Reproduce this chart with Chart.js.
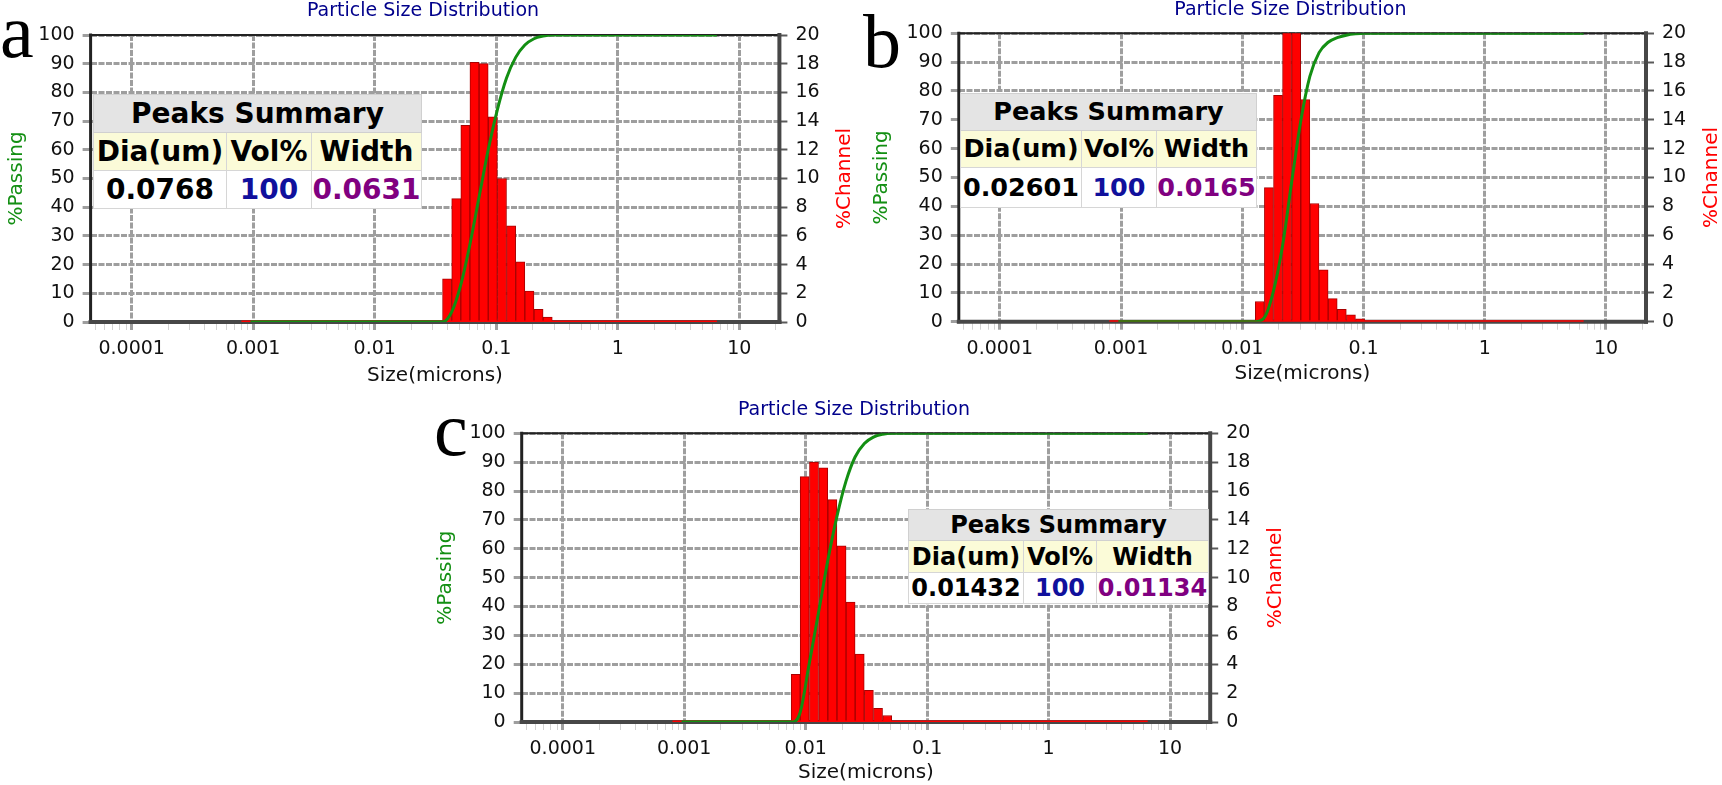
<!DOCTYPE html>
<html><head><meta charset="utf-8">
<script src="https://cdn.jsdelivr.net/npm/chart.js@4.4.1/dist/chart.umd.min.js"></script>
<style>
html,body{margin:0;padding:0;background:#fff;}
body{width:1722px;height:785px;position:relative;overflow:hidden;}
canvas{position:absolute;}
.lbl{position:absolute;font-family:"Liberation Serif","DejaVu Serif",serif;font-size:76px;line-height:76px;color:#000;z-index:6;}
.pk{position:absolute;border-collapse:collapse;table-layout:fixed;font-family:"DejaVu Sans",Verdana,sans-serif;font-weight:bold;z-index:5;background:#fff;border:1px solid #c9c9d9;}
.pk td{padding:0;text-align:center;white-space:nowrap;overflow:hidden;border:1px solid #d6d6d6;line-height:1;color:#000;}
.pk tr.h td{background:#e4e4e4;border-color:#d0d0d0;}
.pk tr.l td{background:#fbfbd8;}
.pk tr.v td{background:#fff;}
</style></head><body>
<canvas id="ca" width="860" height="395" style="left:0px;top:0px;width:860px;height:395px"></canvas>
<canvas id="cb" width="862" height="395" style="left:860px;top:0px;width:862px;height:395px"></canvas>
<canvas id="cc" width="880" height="395" style="left:420px;top:390px;width:880px;height:395px"></canvas>
<div class="lbl" style="left:0px;top:-7px">a</div>
<div class="lbl" style="left:863px;top:3px">b</div>
<div class="lbl" style="left:434px;top:391px">c</div>
<script>
// ---------------- data ----------------
const chartTitle = 'Particle Size Distribution';
const xTitle = 'Size(microns)';
const yTitle = '%Passing';
const y2Title = '%Channel';
const xTickValues = [0.0001, 0.001, 0.01, 0.1, 1, 10];
const xTickLabels = ['0.0001', '0.001', '0.01', '0.1', '1', '10'];

const tableTitle = 'Peaks Summary';
const tableCols = ['Dia(um)', 'Vol%', 'Width'];

// baseline of the %Channel series (instrument range)
const baseSizes = [0.0008, 6.54];
const baseVals = [0, 0];

// panel a
const edgesA = [0.0361, 0.0430, 0.0511, 0.0607, 0.0722, 0.0859, 0.1022, 0.1215, 0.1445, 0.1719, 0.2044, 0.2431, 0.2891];
const channelA = [3.0, 8.6, 13.7, 18.1, 18.0, 14.3, 10.0, 6.7, 4.2, 2.15, 0.88, 0.35];
const passSizesA = [0.00095, 0.0361, 0.0430, 0.0511, 0.0607, 0.0722, 0.0859, 0.1022, 0.1215, 0.1445, 0.1719, 0.2044, 0.2431, 0.2891, 6.54];
const passA = [0, 0, 3.5, 13, 27, 43.5, 60, 74, 85, 92.2, 96.5, 98.7, 99.6, 100, 100];
const peaksA = ['0.0768', '100', '0.0631'];

// panel b
const edgesB = [0.0128, 0.0152, 0.0181, 0.0215, 0.0255, 0.0304, 0.0361, 0.0430, 0.0511, 0.0607, 0.0722, 0.0859, 0.1022];
const channelB = [1.4, 9.3, 15.7, 21.8, 21.5, 15.4, 8.2, 3.6, 1.6, 0.85, 0.48, 0.2];
const passSizesB = [0.00095, 0.0128, 0.0152, 0.0181, 0.0215, 0.0255, 0.0304, 0.0361, 0.0430, 0.0511, 0.0607, 0.0722, 0.0859, 0.1022, 6.54];
const passB = [0, 0, 1.4, 10.7, 26.4, 48.2, 69.7, 85.1, 93.3, 96.9, 98.5, 99.35, 99.8, 100, 100];
const peaksB = ['0.02601', '100', '0.0165'];

// panel c
const edgesC = [0.0076, 0.0090, 0.0107, 0.0128, 0.0152, 0.0181, 0.0215, 0.0255, 0.0304, 0.0361, 0.0430, 0.0511];
const channelC = [3.3, 17.0, 18.0, 17.6, 15.4, 12.2, 8.3, 4.7, 2.2, 0.95, 0.45];
const passSizesC = [0.00095, 0.0076, 0.0090, 0.0107, 0.0128, 0.0152, 0.0181, 0.0215, 0.0255, 0.0304, 0.0361, 0.0430, 0.0511, 6.54];
const passC = [0, 0, 3.3, 20.3, 38.3, 55.9, 71.3, 83.5, 91.8, 96.5, 98.7, 99.65, 100, 100];
const peaksC = ['0.01432', '100', '0.01134'];

// ---------------- styles ----------------
const FONT = '"DejaVu Sans", Verdana, sans-serif';
const GRID = '#9e9e9e';
const GREEN = '#138f13';
const RED = '#ff0000';
const valueColors = ['#000000', '#10109c', '#800080'];
const XMIN = Math.pow(10, -4.338), XMAX = Math.pow(10, 1.33);

const psdPlugin = {
  id: 'psdText',
  beforeDatasetsDraw(chart) {
    const c = chart.ctx, a = chart.chartArea;
    c.save();
    c.lineCap = 'square';
    c.strokeStyle = '#222'; c.lineWidth = 2;
    c.beginPath(); c.moveTo(a.left, a.top); c.lineTo(a.right, a.top); c.stroke();
    c.lineWidth = 3;
    c.beginPath(); c.moveTo(a.left, a.top); c.lineTo(a.left, a.bottom); c.stroke();
    c.strokeStyle = '#474747'; c.lineWidth = 4;
    c.beginPath(); c.moveTo(a.right, a.top); c.lineTo(a.right, a.bottom); c.stroke();
    c.beginPath(); c.moveTo(a.left, a.bottom); c.lineTo(a.right, a.bottom); c.stroke();
    c.restore();
  },
  afterDraw(chart, args, opts) {
    const c = chart.ctx, a = chart.chartArea;
    c.save();
    c.textAlign = 'center'; c.textBaseline = 'middle';
    c.font = '19px ' + FONT; c.fillStyle = '#00008b';
    c.fillText(opts.title, (a.left + a.right) / 2 + opts.titleDx, a.top + opts.titleDy);
    c.translate(a.right + opts.chanDx, (a.top + a.bottom) / 2);
    c.rotate(-Math.PI / 2);
    c.font = '20px ' + FONT; c.fillStyle = RED;
    c.fillText(opts.chanText, 0, 0);
    c.restore();
  }
};

function buildLogTicks(min, max) {
  const ticks = [];
  for (let e = -5; e <= 1; e++) {
    for (let m = 1; m <= 9; m++) {
      const v = m === 1 ? parseFloat('1e' + e) : m * Math.pow(10, e);
      if (v >= min && v <= max) ticks.push({value: v, major: m === 1});
    }
  }
  return ticks;
}
function labelFor(v) {
  const i = xTickValues.findIndex(t => Math.abs(t - v) / t < 1e-6);
  return i >= 0 ? xTickLabels[i] : '';
}

function makeChart(id, edges, channel, passSizes, passVals, L) {
  const barData = channel.map((v, i) => ({x: Math.sqrt(edges[i] * edges[i + 1]), y: v}));
  const passData = passSizes.map((s, i) => ({x: s, y: passVals[i]}));
  const baseData = baseSizes.map((s, i) => ({x: s, y: baseVals[i]}));
  const tickFont = {family: FONT, size: 19};
  const titleFont = {family: FONT, size: 20};
  return new Chart(document.getElementById(id), {
    type: 'bar',
    data: {
      datasets: [
        {type: 'line', label: yTitle, data: passData, xAxisID: 'x', yAxisID: 'y', borderColor: GREEN, borderWidth: 3,
         pointRadius: 0, cubicInterpolationMode: 'monotone', fill: false, order: 0},
        {type: 'line', label: 'base', data: baseData, xAxisID: 'x', yAxisID: 'y2', borderColor: RED, borderWidth: 3,
         pointRadius: 0, fill: false, order: 1},
        {type: 'bar', label: y2Title, data: barData, xAxisID: 'xb', yAxisID: 'y2', backgroundColor: RED,
         borderColor: '#a80000', borderWidth: 1, categoryPercentage: 1, barPercentage: 1, grouped: false, clip: 0, order: 2}
      ]
    },
    options: {
      responsive: false, animation: false, devicePixelRatio: 1,
      layout: {padding: {top: L.padTop, left: 0, right: 0, bottom: 0}},
      plugins: {
        legend: {display: false}, tooltip: {enabled: false}, title: {display: false},
        psdText: {title: chartTitle, titleDx: -12, titleDy: -23.5, chanDx: 65.5, chanText: y2Title}
      },
      scales: {
        x: {
          type: 'logarithmic', position: 'bottom', min: XMIN, max: XMAX, offset: false,
          afterBuildTicks: s => { s.ticks = buildLogTicks(s.min, s.max); },
          afterFit: s => { s.height = L.xH; },
          ticks: {autoSkip: false, maxRotation: 0, minRotation: 0, padding: 8, font: tickFont, color: '#111',
                  callback: v => labelFor(v)},
          grid: {offset: false, lineWidth: 3, tickLength: 8,
                 color: ctx => (ctx.tick && ctx.tick.major) ? GRID : 'rgba(0,0,0,0)',
                 tickColor: ctx => (ctx.tick && ctx.tick.major) ? GRID : '#d2d2d2',
                 tickWidth: ctx => (ctx.tick && ctx.tick.major) ? 3 : 1},
          border: {display: false, dash: [6, 1.5]},
          title: {display: true, text: xTitle, font: titleFont, color: '#111', padding: {top: 0, bottom: L.xTitlePad}}
        },
        xb: {
          type: 'logarithmic', display: false, min: XMIN, max: XMAX, offset: false, grid: {offset: false},
          afterBuildTicks: s => { s.ticks = [{value: s.min}]; }
        },
        y: {
          type: 'linear', position: 'left', min: 0, max: 100,
          afterFit: s => { s.width = L.yW; },
          ticks: {stepSize: 10, padding: 8, font: tickFont, color: '#111'},
          grid: {lineWidth: 3, color: GRID, tickLength: 8, tickColor: GRID},
          border: {display: false, dash: [6, 1.5]},
          title: {display: true, text: yTitle, font: titleFont, color: GREEN, padding: {top: L.yTitlePad, bottom: 0}}
        },
        y2: {
          type: 'linear', position: 'right', min: 0, max: 20,
          afterFit: s => { s.width = L.y2W; },
          ticks: {stepSize: 2, padding: 8, font: tickFont, color: '#111'},
          grid: {drawOnChartArea: false, tickLength: 8, tickColor: '#5a5a5a', tickWidth: 2},
          border: {display: false}
        }
      }
    },
    plugins: [psdPlugin]
  });
}

function makeTable(peaks, T) {
  const t = document.createElement('table');
  t.className = 'pk';
  t.style.left = T.left + 'px'; t.style.top = T.top + 'px'; t.style.fontSize = T.font + 'px';
  t.style.width = T.cols.reduce((p, q) => p + q, 0) + 'px';
  const cg = document.createElement('colgroup');
  T.cols.forEach(w => { const c = document.createElement('col'); c.style.width = w + 'px'; cg.appendChild(c); });
  t.appendChild(cg);
  const r1 = t.insertRow(); r1.className = 'h'; r1.style.height = T.rows[0] + 'px';
  const h = r1.insertCell(); h.colSpan = 3; h.textContent = tableTitle;
  const r2 = t.insertRow(); r2.className = 'l'; r2.style.height = T.rows[1] + 'px';
  tableCols.forEach(txt => { const c = r2.insertCell(); c.textContent = txt; });
  const r3 = t.insertRow(); r3.className = 'v'; r3.style.height = T.rows[2] + 'px';
  peaks.forEach((p, i) => { const c = r3.insertCell(); c.textContent = p; c.style.color = valueColors[i]; });
  document.body.appendChild(t);
}

makeChart('ca', edgesA, channelA, passSizesA, passA, {padTop: 35, yW: 90.6, y2W: 80.6, xH: 73, yTitlePad: 4.5, xTitlePad: 7});
makeChart('cb', edgesB, channelB, passSizesB, passB, {padTop: 33.3, yW: 98.8, y2W: 76, xH: 73.3, yTitlePad: 10, xTitlePad: 9});
makeChart('cc', edgesC, channelC, passSizesC, passC, {padTop: 43.3, yW: 101.7, y2W: 89.8, xH: 63, yTitlePad: 14, xTitlePad: 0});

makeTable(peaksA, {left: 93, top: 94, font: 28, cols: [133, 85, 110], rows: [38, 38, 38]});
makeTable(peaksB, {left: 960, top: 93, font: 25.5, cols: [121, 75, 100], rows: [37, 37, 40]});
makeTable(peaksC, {left: 908, top: 509, font: 24, cols: [115, 73, 112], rows: [31, 32, 31]});
</script>
</body></html>
